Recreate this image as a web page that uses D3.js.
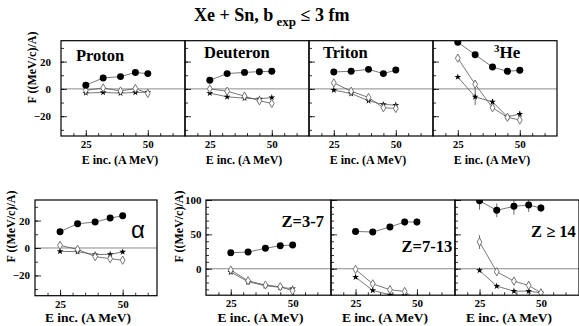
<!DOCTYPE html>
<html><head><meta charset="utf-8">
<script src="https://cdn.jsdelivr.net/npm/d3@7"></script>
<style>
body{margin:0;background:#fff;}
svg text{font-family:"Liberation Serif",serif !important;font-weight:bold;fill:#000;}
svg text.sans{font-family:"Liberation Sans",sans-serif !important;font-weight:normal;}
</style></head>
<body><svg id="c" width="579" height="326"></svg>
<script>
const energies = [25, 32, 39, 45, 50];

const pFill = [2.7, 8, 9, 12, 11.2];
const pDiam = [-1, 0.7, -1.5, 0.3, -3.3];
const pStar = [-3, -2.6, -3.1, -2.6, -2.4];

const dFill = [6.3, 11.2, 12.1, 12.6, 12.9];
const dDiam = [0, -1.7, -5.3, -8.7, -10.6];
const dStar = [-3.1, -5.8, -6.8, -7.3, -6.3];

const tFill = [12.4, 12.9, 14.3, 11.2, 13.8];
const tDiam = [4.4, -1.7, -6.3, -13.8, -14.3];
const tStar = [-0.9, -3.4, -8.7, -11.4, -11.9];

const hFill = [34.2, 25, 16, 12.9, 13.6];
const hDiam = [22.5, 3.4, -13.8, -20.8, -22.8];
const hStar = [8.7, -5.8, -9.5, -20.4, -18.4];
const hFillErr = [2, 1, 1, 2, 1];
const hDiamErr = [2, 3, 1, 1, 1];
const hStarErr = [1, 6, 2, 1, 2];

const aFill = [11.9, 17.7, 18.9, 21.8, 23.5];
const aDiam = [1.9, -1, -6.3, -7.8, -8.9];
const aStar = [-2.4, -2.7, -4.8, -4.6, -2.9];

const z1Fill = [23.3, 24.3, 29.7, 33.5, 34.5];
const z1Diam = [-2, -17.5, -23.8, -26.2, -32];
const z1Star = [-4.8, -19, -24.7, -27.1, -29];

const z2Fill = [54.3, 53.4, 60.7, 68, 68];
const z2Diam = [-1, -22, -30.5, -33, -46];
const z2Star = [-12.2, -31.5, -38, -38.5, -48];
const z2FillErr = [4, 2, 2, 5, 5];
const z2DiamErr = [1, 1, 2, 3, 1];

const z3Fill = [98.9, 85, 90.8, 92.7, 88.3];
const z3Diam = [38.8, -4.4, -18, -24.3, -35];
const z3Star = [-2.5, -25.3, -32.6, -32.6, -35];
const z3FillErr = [13, 10, 12, 10, 6];
const z3DiamErr = [10, 2, 3, 6, 2];
const z3StarErr = [1, 1, 2, 2, 1];

const xMajorTicks = [25, 50];
const xMinorTicks = [20, 25, 30, 35, 40, 45, 50, 55, 60];
const yMajorSmall = [-20, 0, 20];
const yMinorSmall = [-30, -20, -10, 0, 10, 20, 30];
const yMajorZ = [0, 50, 100];
const yMinorZ = [-30, -20, -10, 0, 10, 20, 30, 40, 50, 60, 70, 80, 90, 100];

const titleMain = "Xe + Sn, b";
const titleSub = "exp";
const titleEnd = " \u2264 3 fm";
const yTitle = "F ((MeV/c)/A)";
const xTitle = "E inc. (A MeV)";

const SERIF = "Liberation Serif, serif";
const svg = d3.select("#c");
const zeros = [0,0,0,0,0];

// title
const tt = svg.append("text").attr("x", 194).attr("y", 21).attr("font-family", SERIF).style("font-size", "18px");
tt.append("tspan").text(titleMain);
tt.append("tspan").attr("dy", 5).style("font-size", "13px").text(" " + titleSub);
tt.append("tspan").attr("dy", -5).text(titleEnd);

let clipId = 0;
function panel(cfg) {
  const x = d3.scaleLinear().domain(cfg.xd).range([cfg.x0, cfg.x1]);
  const y = d3.scaleLinear().domain(cfg.yd).range([cfg.y1, cfg.y0]);
  const g = svg.append("g");
  const id = "clip" + (clipId++);
  g.append("clipPath").attr("id", id).append("rect")
    .attr("x", cfg.x0).attr("y", cfg.y0).attr("width", cfg.x1 - cfg.x0).attr("height", cfg.y1 - cfg.y0);

  g.append("line").attr("x1", cfg.x0).attr("x2", cfg.x1).attr("y1", y(0)).attr("y2", y(0))
    .attr("stroke", "#8a8a8a").attr("stroke-width", 1);

  const axStyle = sel => { sel.select(".domain").remove(); sel.selectAll("line").attr("stroke", "#000").attr("stroke-width", 0.8);
    sel.attr("font-family", SERIF).attr("font-size", 11).attr("font-weight", "bold"); };
  g.append("g").attr("transform", `translate(0,${cfg.y1})`)
    .call(d3.axisBottom(x).tickValues(xMinorTicks).tickSizeInner(-3).tickSizeOuter(0).tickFormat(""))
    .call(axStyle);
  g.append("g").attr("transform", `translate(0,${cfg.y1})`)
    .call(d3.axisBottom(x).tickValues(xMajorTicks).tickSizeInner(-6).tickSizeOuter(0).tickPadding(cfg.xPad))
    .call(axStyle);
  g.append("g").attr("transform", `translate(${cfg.x0},0)`)
    .call(d3.axisLeft(y).tickValues(cfg.yMinor).tickSizeInner(-3).tickSizeOuter(0).tickFormat(""))
    .call(axStyle);
  g.append("g").attr("transform", `translate(${cfg.x0},0)`)
    .call(d3.axisLeft(y).tickValues(cfg.yMajor).tickSizeInner(-6).tickSizeOuter(0).tickPadding(cfg.yPad)
      .tickFormat(cfg.yLabels ? d3.format("d") : ""))
    .call(axStyle);

  const dg = g.append("g").attr("clip-path", `url(#${id})`);
  const line = d3.line().x((d, i) => x(energies[i])).y(d => y(d));
  const series = [
    {v: cfg.star, e: cfg.starErr || zeros, type: "star"},
    {v: cfg.diam, e: cfg.diamErr || zeros, type: "diam"},
    {v: cfg.fill, e: cfg.fillErr || zeros, type: "fill"}
  ];
  series.forEach(s => {
    dg.append("path").datum(s.v).attr("d", line).attr("fill", "none")
      .attr("stroke", "#555").attr("stroke-width", 0.8);
  });
  series.forEach(s => {
    s.v.forEach((v, i) => {
      if (s.e[i] > 0) {
        dg.append("line").attr("x1", x(energies[i])).attr("x2", x(energies[i]))
          .attr("y1", y(v - s.e[i])).attr("y2", y(v + s.e[i]))
          .attr("stroke", "#444").attr("stroke-width", 0.8);
      }
    });
  });
  series.forEach(s => {
    let sym, fill, stroke, sw;
    if (s.type === "fill") { sym = d3.symbol().type(d3.symbolCircle).size(38); fill = "#000"; stroke = "none"; sw = 0; }
    else if (s.type === "diam") { sym = d3.symbol().type(d3.symbolDiamond).size(20); fill = "#fff"; stroke = "#666"; sw = 0.9; }
    else { sym = d3.symbol().type(d3.symbolStar).size(14); fill = "#000"; stroke = "none"; sw = 0; }
    dg.selectAll(null).data(s.v).enter().append("path")
      .attr("d", sym).attr("transform", (d, i) => `translate(${x(energies[i])},${y(d)})`)
      .attr("fill", fill).attr("stroke", stroke).attr("stroke-width", sw);
  });

  g.append("rect").attr("x", cfg.x0).attr("y", cfg.y0).attr("width", cfg.x1 - cfg.x0).attr("height", cfg.y1 - cfg.y0)
    .attr("fill", "none").attr("stroke", "#000").attr("stroke-width", 1.2);

  svg.append("text").attr("x", (cfg.x0 + cfg.x1) / 2 + cfg.xtOff).attr("y", cfg.xtY).attr("font-family", SERIF)
    .attr("text-anchor", "middle").style("font-size", cfg.xtSize + "px").text(xTitle);
  return {x, y};
}

const xdTop = [15, 65];
const ydTop = [-34.5, 35.3];
const topCommon = {xd: xdTop, yd: ydTop, y0: 40.7, y1: 136, yMajor: yMajorSmall, yMinor: yMinorSmall,
  xPad: 4.5, yPad: 10, xtOff: -3, xtY: 163.5, xtSize: 12};

panel(Object.assign({}, topCommon, {x0: 61, x1: 185, yLabels: true, fill: pFill, diam: pDiam, star: pStar}));
panel(Object.assign({}, topCommon, {x0: 185, x1: 309, yLabels: false, fill: dFill, diam: dDiam, star: dStar}));
panel(Object.assign({}, topCommon, {x0: 309, x1: 433, yLabels: false, fill: tFill, diam: tDiam, star: tStar}));
panel(Object.assign({}, topCommon, {x0: 433, x1: 557, yLabels: false, fill: hFill, diam: hDiam, star: hStar,
  fillErr: hFillErr, diamErr: hDiamErr, starErr: hStarErr}));

panel({xd: [15, 63.7], yd: [-34.8, 35], x0: 35, x1: 157, y0: 200, y1: 295.7, yMajor: yMajorSmall, yMinor: yMinorSmall,
  xPad: 4.5, yPad: 5, xtOff: -8, xtY: 321.5, xtSize: 13.5, yLabels: true, fill: aFill, diam: aDiam, star: aStar});

const zCommon = {xd: [15, 65.5], yd: [-38.5, 100], y0: 200, y1: 295.2, yMajor: yMajorZ, yMinor: yMinorZ,
  xPad: 4.5, yPad: 4.5, xtOff: -8, xtY: 321.5, xtSize: 13.5};
panel(Object.assign({}, zCommon, {x0: 206, x1: 331, yLabels: true, fill: z1Fill, diam: z1Diam, star: z1Star}));
panel(Object.assign({}, zCommon, {x0: 331, x1: 455, yLabels: false, fill: z2Fill, diam: z2Diam, star: z2Star,
  fillErr: z2FillErr, diamErr: z2DiamErr}));
panel(Object.assign({}, zCommon, {x0: 455, x1: 579, yLabels: false, fill: z3Fill, diam: z3Diam, star: z3Star,
  fillErr: z3FillErr, diamErr: z3DiamErr, starErr: z3StarErr}));

[[32, 67.5], [10.5, 226.5], [178.5, 226.5]].forEach(p => {
  svg.append("text").attr("transform", `translate(${p[0]},${p[1]}) rotate(-90)`).attr("font-family", SERIF)
    .attr("text-anchor", "middle").attr("dy", "0.35em").style("font-size", "12px").text(yTitle);
});

const lab = (x, y, s, t) => svg.append("text").attr("x", x).attr("y", y).attr("font-family", SERIF)
  .style("font-size", s + "px").text(t);
lab(76, 61, 16.5, "Proton");
lab(204, 57.5, 16.5, "Deuteron");
lab(323, 57.5, 16.5, "Triton");
const he = svg.append("text").attr("x", 494).attr("y", 57.5).attr("font-family", SERIF).style("font-size", "17px");
he.append("tspan").attr("dy", -6).style("font-size", "11px").text("3");
he.append("tspan").attr("dy", 6).text("He");
svg.append("text").attr("class", "sans").attr("x", 131).attr("y", 238)
  .style("font-size", "24px").text("\u03b1");
lab(281.5, 226.5, 16.5, "Z=3-7");
lab(401.5, 251.5, 16.5, "Z=7-13");
lab(531, 236.5, 16.5, "Z \u2265 14");
</script></body></html>
